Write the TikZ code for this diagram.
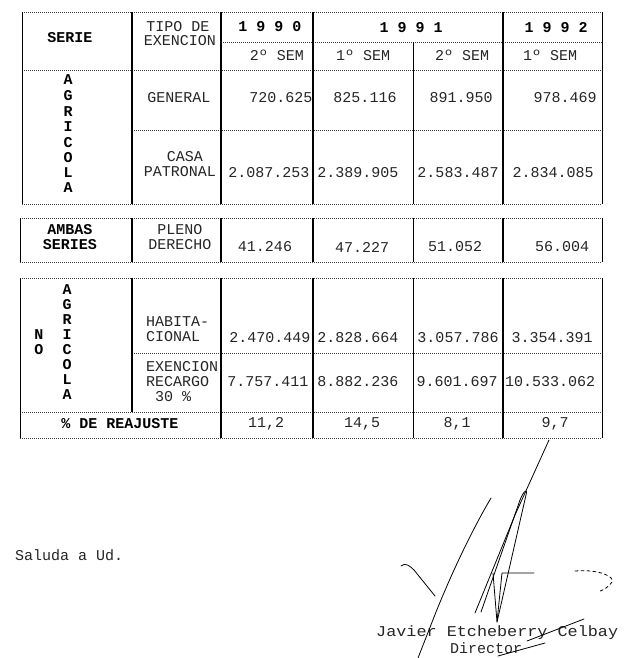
\documentclass[tikz,border=0pt]{standalone}
\usepackage{fontspec}
\newfontfamily\typew{Liberation Mono}
\begin{document}
\begin{tikzpicture}[x=1pt,y=-1pt,
  txt/.style={font=\typew\fontsize{15}{15}\selectfont, inner sep=0pt, anchor=center, text=black!85},
  btxt/.style={font=\typew\bfseries\fontsize{15}{15}\selectfont, inner sep=0pt, anchor=center},
  ltxt/.style={txt, anchor=west},
  heavy/.style={line width=2.3pt, black},
  thin/.style={line width=0.9pt, black},
  dotline/.style={line width=0.8pt, black!75, dash pattern=on 1pt off 1pt},
  sig/.style={line width=0.8pt, black, line cap=round, line join=round}]
\useasboundingbox (0,0) rectangle (629,658);
\fill[white] (0,0) rectangle (629,658);

% ---------- top block ----------
\draw[dotline] (22,12) -- (602,12);
\draw[dotline] (221,42) -- (602,42);
\draw[dotline] (22,70) -- (602,70);
\draw[dotline] (132,130) -- (602,130);
\draw[dotline] (22,204) -- (602,204);
\draw[thin] (22,12) -- (22,204);
\draw[heavy] (132,12) -- (132,204);
\draw[heavy] (221,12) -- (221,204);
\draw[heavy] (313,12) -- (313,204);
\draw[thin] (413,42) -- (413,204);
\draw[heavy] (503,12) -- (503,204);
\draw[thin] (602,12) -- (602,204);

% ---------- ambas block ----------
\draw[dotline] (20,218) -- (602,218);
\draw[dotline] (20,262) -- (602,262);
\draw[thin] (20,218) -- (20,262);
\draw[heavy] (132,218) -- (132,262);
\draw[heavy] (221,218) -- (221,262);
\draw[heavy] (313,218) -- (313,262);
\draw[thin] (413,218) -- (413,262);
\draw[heavy] (503,218) -- (503,262);
\draw[thin] (602,218) -- (602,262);

% ---------- no agricola block ----------
\draw[dotline] (20,278) -- (602,278);
\draw[dotline] (132,353) -- (602,353);
\draw[dotline] (20,412) -- (602,412);
\draw[dotline] (20,438) -- (602,438);
\draw[thin] (20,278) -- (20,438);
\draw[heavy] (132,278) -- (132,412);
\draw[heavy] (221,278) -- (221,438);
\draw[heavy] (313,278) -- (313,438);
\draw[thin] (413,278) -- (413,438);
\draw[heavy] (503,278) -- (503,438);
\draw[thin] (602,278) -- (602,438);

% ---------- header text ----------
\node[btxt] (serie) at (70,38) {SERIE};
\node[txt] (tipo1) at (178,27) {TIPO DE};
\node[txt] (tipo2) at (180,41) {EXENCION};
\node[btxt] (y90) at (270,27) {1 9 9 0};
\node[btxt] (y91) at (411,28) {1 9 9 1};
\node[btxt] (y92) at (556,28) {1 9 9 2};
\node[txt] (s1) at (277,55) {2º SEM};
\node[txt] (s2) at (363,55) {1º SEM};
\node[txt] (s3) at (462,55) {2º SEM};
\node[txt] (s4) at (550,55) {1º SEM};

% ---------- agricola ----------
\foreach \l/\yy [count=\i] in {A/80,G/96,R/112,I/127,C/143,O/158,L/173,A/188}
  \node[btxt] (ag\i) at (68,\yy) {\l};
\node[txt] (gen) at (179,98) {GENERAL};
\node[txt] (casa) at (185,157) {CASA};
\node[txt] (patr) at (180,172) {PATRONAL};
\node[txt] (v11) at (281,98) {720.625};
\node[txt] (v12) at (365,98) {825.116};
\node[txt] (v13) at (461,98) {891.950};
\node[txt] (v14) at (565,98) {978.469};
\node[txt] (v21) at (269,173) {2.087.253};
\node[txt] (v22) at (358,173) {2.389.905};
\node[txt] (v23) at (458,173) {2.583.487};
\node[txt] (v24) at (553,173) {2.834.085};

% ---------- ambas ----------
\node[btxt] (amb1) at (70,230) {AMBAS};
\node[btxt] (amb2) at (70,245) {SERIES};
\node[txt] (pl1) at (180,230) {PLENO};
\node[txt] (pl2) at (180,245) {DERECHO};
\node[txt] (v31) at (265,247) {41.246};
\node[txt] (v32) at (362,247) {47.227};
\node[txt] (v33) at (455,247) {51.052};
\node[txt] (v34) at (562,247) {56.004};

% ---------- no agricola ----------
\node[btxt] (nn) at (39,335) {N};
\node[btxt] (no) at (39,350) {O};
\foreach \l/\yy [count=\i] in {A/290,G/305,R/320,I/335,C/350,O/365,L/380,A/395}
  \node[btxt] (nag\i) at (67,\yy) {\l};
\node[ltxt] (hab1) at (146,322) {HABITA-};
\node[ltxt] (hab2) at (146,337) {CIONAL};
\node[ltxt] (ex1) at (146,367) {EXENCION};
\node[ltxt] (ex2) at (146,382) {RECARGO};
\node[ltxt] (ex3) at (155,397) {30 \%};
\node[txt] (v41) at (270,338) {2.470.449};
\node[txt] (v42) at (358,338) {2.828.664};
\node[txt] (v43) at (458,338) {3.057.786};
\node[txt] (v44) at (552,338) {3.354.391};
\node[txt] (v51) at (268,382) {7.757.411};
\node[txt] (v52) at (358,382) {8.882.236};
\node[txt] (v53) at (457,382) {9.601.697};
\node[txt] (v54) at (550,382) {10.533.062};

% ---------- reajuste ----------
\node[btxt] (reaj) at (120,424) {\% DE REAJUSTE};
\node[txt] (r1) at (266,424) {11,2};
\node[txt] (r2) at (362,424) {14,5};
\node[txt] (r3) at (457,424) {8,1};
\node[txt] (r4) at (555,424) {9,7};

% ---------- closing ----------
\node[ltxt] (saluda) at (15,555) {Saluda a Ud.};
\node[ltxt] (firma) at (376,633) {\scalebox{1.12}[1]{Javier Etcheberry Celbay}};
\node[txt] (cargo) at (486,648) {Director};

% ---------- signature ----------
\draw[sig] (418,658) -- (436,612) .. controls (455,565) and (475,525) .. (491,498);
\draw[sig] (401,566) .. controls (405,562) and (410,566) .. (414,570) -- (435,596);
\draw[sig] (475,613) -- (515,515) -- (549,440);
\draw[sig] (481,612) -- (520,500) .. controls (524,490) and (528,488) .. (526,495) -- (497,622);
\draw[sig] (493,573) -- (497,622) -- (502,573) -- (534,573);
\draw[sig, dashed] (575,571) .. controls (600,569) and (615,577) .. (612,582) .. controls (609,587) and (603,590) .. (598,592);
\draw[sig] (527,641) -- (584,619);
\draw[sig] (498,656) -- (545,643);
\end{tikzpicture}
\end{document}
